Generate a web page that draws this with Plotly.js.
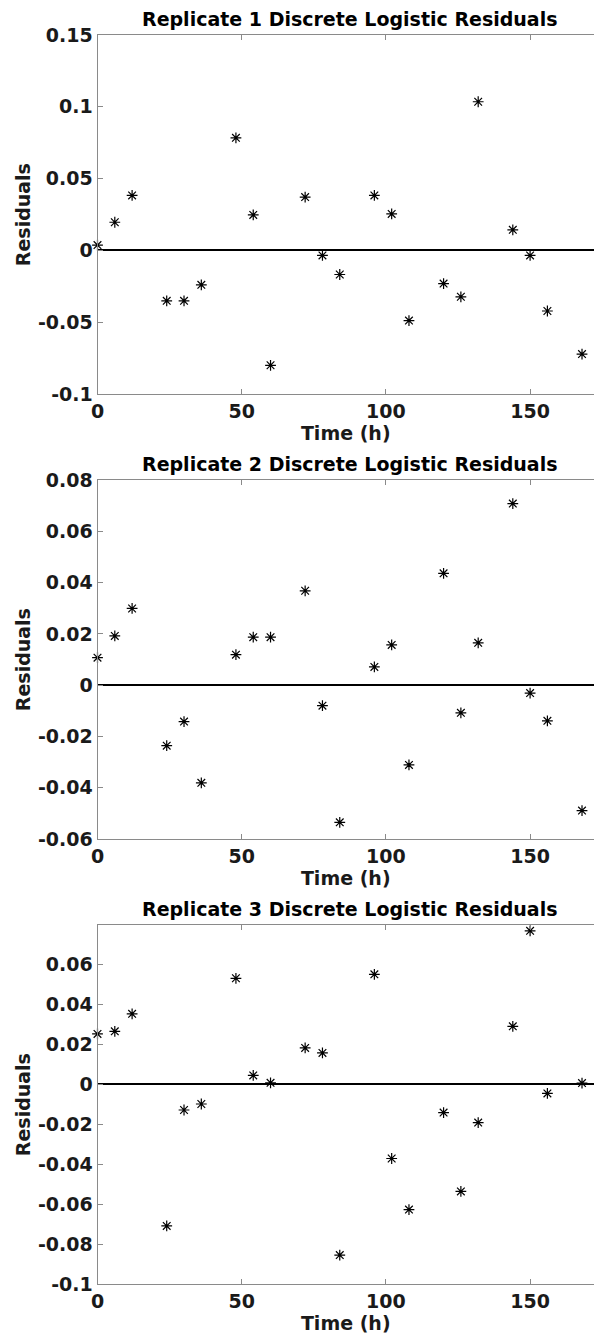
<!DOCTYPE html>
<html>
<head>
<meta charset="utf-8">
<script src="https://cdn.plot.ly/plotly-3.0.1.min.js"></script>
<style>html,body{margin:0;padding:0;background:#fff;overflow:hidden;}</style>
</head>
<body>
<div id="chart" style="width:594px;height:1342px;"></div>
<script>
// Data
const timeH = [0, 6, 12, 24, 30, 36, 48, 54, 60, 72, 78, 84, 96, 102, 108, 120, 126, 132, 144, 150, 156, 168];
const rep1 = [0.0037, 0.0196, 0.0383, -0.0351, -0.0351, -0.0240, 0.0784, 0.0247, -0.0800, 0.0371, -0.0035, -0.0168,
              0.0383, 0.0254, -0.0489, -0.0231, -0.0323, 0.1035, 0.0143, -0.0035, -0.0422, -0.0722];
const rep2 = [0.0107, 0.0192, 0.0299, -0.0236, -0.0142, -0.0381, 0.0119, 0.0187, 0.0187, 0.0368, -0.0080, -0.0535,
              0.0071, 0.0157, -0.0311, 0.0436, -0.0108, 0.0165, 0.0708, -0.0031, -0.0139, -0.0489];
const rep3 = [0.0253, 0.0266, 0.0354, -0.0709, -0.0128, -0.0098, 0.0532, 0.0045, 0.0008, 0.0183, 0.0158, -0.0855,
              0.0552, -0.0371, -0.0627, -0.0141, -0.0536, -0.0191, 0.0291, 0.0770, -0.0045, 0.0007];
const titles = ["Replicate 1 Discrete Logistic Residuals",
                "Replicate 2 Discrete Logistic Residuals",
                "Replicate 3 Discrete Logistic Residuals"];
const xTitle = "Time (h)";
const yTitle = "Residuals";
const xTicks = [0, 50, 100, 150];
const yTicks1 = [-0.1, -0.05, 0, 0.05, 0.1, 0.15];
const yTicks2 = [-0.06, -0.04, -0.02, 0, 0.02, 0.04, 0.06, 0.08];
const yTicks3 = [-0.1, -0.08, -0.06, -0.04, -0.02, 0, 0.02, 0.04, 0.06];
const yRanges = [[-0.1, 0.15], [-0.06, 0.08], [-0.1, 0.0799]];

const H = 1342, W = 594;
const FONT = "'DejaVu Sans', 'Liberation Sans', Arial, sans-serif";
const FS = 19;
const axisColor = "#8a8a8a";
const textColor = "#1a1a1a";
// plot area pixel boxes [top, bottom]
const boxes = [[35, 394], [480, 839], [925, 1284]];
const leftPx = 97.5;

const series = [rep1, rep2, rep3];
const yTickSets = [yTicks1, yTicks2, yTicks3];
const fmt = v => String(+v.toFixed(4));   // plain hyphen for negatives, as in the reference

const data = series.map((ys, i) => ({
  type: "scatter", mode: "markers",
  x: timeH, y: ys,
  xaxis: i === 0 ? "x" : "x" + (i + 1),
  yaxis: i === 0 ? "y" : "y" + (i + 1),
  marker: {symbol: "asterisk-open", size: 9, color: "#000", line: {color: "#000", width: 1.2}},
  cliponaxis: false,
  showlegend: false,
  hoverinfo: "x+y"
}));

const layout = {
  width: W, height: H,
  margin: {l: 0, r: 0, t: 0, b: 0},
  paper_bgcolor: "#fff", plot_bgcolor: "#fff",
  font: {family: FONT, color: textColor, size: FS},
  showlegend: false,
  annotations: []
};

boxes.forEach((b, i) => {
  const sfx = i === 0 ? "" : String(i + 1);
  const dom = [1 - b[1] / H, 1 - b[0] / H];
  layout["xaxis" + sfx] = {
    domain: [leftPx / W, 1],
    anchor: "y" + sfx,
    range: [0, (W - leftPx) / 2.884],
    tickvals: xTicks,
    ticktext: xTicks.map(fmt),
    ticks: "inside", ticklen: 5, tickcolor: axisColor, tickwidth: 1,
    showline: true, linecolor: axisColor, linewidth: 1, mirror: "ticks",
    showgrid: false, zeroline: false,
    tickfont: {family: FONT, size: FS, color: textColor, weight: "bold"},
    title: {text: "<b>" + xTitle + "</b>", font: {family: FONT, size: FS, color: textColor}, standoff: 5}
  };
  layout["yaxis" + sfx] = {
    domain: dom,
    anchor: "x" + sfx,
    range: yRanges[i],
    tickvals: yTickSets[i],
    ticktext: yTickSets[i].map(fmt),
    ticks: "inside", ticklen: 5, tickcolor: axisColor, tickwidth: 1,
    showline: true, linecolor: axisColor, linewidth: 1, mirror: false,
    showgrid: false,
    zeroline: true, zerolinecolor: "#000", zerolinewidth: 2,
    tickfont: {family: FONT, size: FS, color: textColor, weight: "bold"}
  };
  layout.annotations.push({
    text: "<b>" + titles[i] + "</b>",
    xref: "paper", yref: "paper",
    x: 350 / W, y: 1 - (b[0] - 15.6) / H,
    xanchor: "center", yanchor: "middle",
    showarrow: false,
    font: {family: FONT, size: FS, color: "#000"}
  });
  layout.annotations.push({
    text: "<b>" + yTitle + "</b>",
    xref: "paper", yref: "paper",
    x: 22.7 / W, y: 1 - ((b[0] + b[1]) / 2) / H,
    xanchor: "center", yanchor: "middle",
    textangle: -90,
    showarrow: false,
    font: {family: FONT, size: FS, color: textColor}
  });
});

Plotly.newPlot("chart", data, layout, {displayModeBar: false, staticPlot: true});
</script>
</body>
</html>
